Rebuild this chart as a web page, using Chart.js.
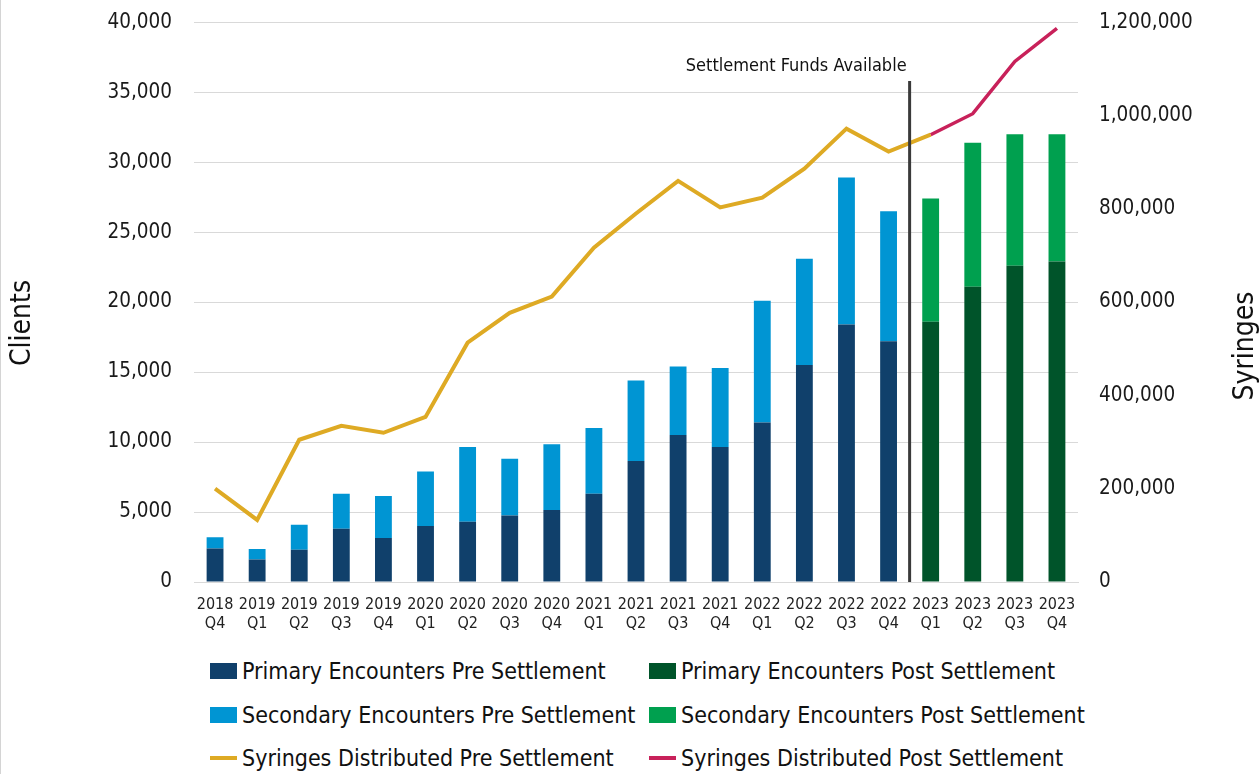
<!DOCTYPE html>
<html>
<head>
<meta charset="utf-8">
<script src="https://cdn.jsdelivr.net/npm/chart.js@4/dist/chart.umd.min.js"></script>
<style>
  html, body { margin: 0; padding: 0; background: #fff; }
  body { width: 1259px; height: 774px; position: relative; overflow: hidden; border-left: 1px solid #d4d4d4; box-sizing: border-box; }
  #chart { position: absolute; left: 0; top: -12px; }
  .legend { position: absolute; left: 0; top: 0; font-family: 'Liberation Sans Narrow', 'DejaVu Sans Condensed', sans-serif; font-size: 23px; color: #111; }
  .legend .item { position: absolute; display: flex; align-items: center; white-space: nowrap; height: 30px; }
  .legend .mark { width: 27px; margin-right: 5px; }
</style>
</head>
<body>
<canvas id="chart" width="1259" height="658"></canvas>
<div class="legend" id="legend"></div>
<script>
// Quarterly encounters (clients) and syringes distributed, before/after settlement funds
const years    = ['2018','2019','2019','2019','2019','2020','2020','2020','2020','2021','2021','2021','2021','2022','2022','2022','2022','2023','2023','2023','2023'];
const quarters = ['Q4','Q1','Q2','Q3','Q4','Q1','Q2','Q3','Q4','Q1','Q2','Q3','Q4','Q1','Q2','Q3','Q4','Q1','Q2','Q3','Q4'];

// 2018 Q4 .. 2022 Q4
const primaryPre   = [2400, 1600, 2300, 3800, 3150, 4000, 4300, 4750, 5150, 6300, 8650, 10500, 9650, 11400, 15500, 18400, 17200];
const secondaryPre = [800, 750, 1800, 2500, 3000, 3900, 5350, 4050, 4700, 4700, 5750, 4900, 5650, 8700, 7600, 10500, 9300];
// 2023 Q1 .. 2023 Q4
const primaryPost   = [18600, 21100, 22600, 22900];
const secondaryPost = [8800, 10300, 9400, 9100];

// 2018 Q4 .. 2023 Q1 (pre line runs up to the first post quarter)
const syringesPre  = [200000, 133000, 305000, 335000, 320000, 354000, 513000, 577000, 612000, 717000, 790000, 860000, 803000, 824000, 886000, 972000, 923000, 959000];
// 2023 Q1 .. 2023 Q4
const syringesPost = [959000, 1004000, 1116000, 1187000];

const clientTicks  = [0, 5000, 10000, 15000, 20000, 25000, 30000, 35000, 40000];
const syringeTicks = [0, 200000, 400000, 600000, 800000, 1000000, 1200000];

const COLORS = {
  primaryPre: '#10406B',
  secondaryPre: '#0095D3',
  primaryPost: '#00542A',
  secondaryPost: '#00A04F',
  syrPre: '#DEAA24',
  syrPost: '#C8215A',
  grid: '#D9D9D9',
  text: '#1a1a1a',
};

const FONT = "'Liberation Sans Narrow', 'DejaVu Sans Condensed', sans-serif";
const labels = years.map((y, i) => [y, quarters[i]]);
const nulls = (n) => Array(n).fill(null);
const nPre = primaryPre.length;
const SHIFT = 12; // canvas is moved up by this much

Chart.defaults.font.family = FONT;
Chart.defaults.color = COLORS.text;

// settlement marker + rotated axis titles
const extras = {
  id: 'extras',
  afterDatasetsDraw(chart) {
    const { ctx, scales } = chart;
    const x = scales.x.getPixelForValue(nPre - 0.5);
    const yTop = scales.y.getPixelForValue(35800);
    const yBot = scales.y.getPixelForValue(0);
    ctx.save();
    ctx.strokeStyle = '#3a3a3a';
    ctx.lineWidth = 3;
    ctx.beginPath();
    ctx.moveTo(x, yTop);
    ctx.lineTo(x, yBot);
    ctx.stroke();
    ctx.fillStyle = '#111';
    ctx.font = '18px ' + FONT;
    ctx.textAlign = 'right';
    ctx.textBaseline = 'middle';
    ctx.fillText('Settlement Funds Available', x - 3, 66 + SHIFT);

    ctx.font = '28px ' + FONT;
    ctx.textAlign = 'center';
    ctx.translate(22, 323 + SHIFT);
    ctx.rotate(-Math.PI / 2);
    ctx.fillText('Clients', 0, 0);
    ctx.restore();

    ctx.save();
    ctx.fillStyle = '#111';
    ctx.font = '28px ' + FONT;
    ctx.textAlign = 'center';
    ctx.textBaseline = 'middle';
    ctx.translate(1245, 346 + SHIFT);
    ctx.rotate(-Math.PI / 2);
    ctx.fillText('Syringes', 0, 0);
    ctx.restore();
  }
};

const fmt = (v) => Number(v).toLocaleString('en-US');

const chart = new Chart(document.getElementById('chart'), {
  type: 'bar',
  data: {
    labels,
    datasets: [
      { type: 'line', label: 'Syringes Distributed Pre Settlement', data: syringesPre.concat(nulls(labels.length - syringesPre.length)),
        yAxisID: 'y1', borderColor: COLORS.syrPre, backgroundColor: COLORS.syrPre, borderWidth: 4, pointRadius: 0, tension: 0, order: 0 },
      { type: 'line', label: 'Syringes Distributed Post Settlement', data: nulls(labels.length - syringesPost.length).concat(syringesPost),
        yAxisID: 'y1', borderColor: COLORS.syrPost, backgroundColor: COLORS.syrPost, borderWidth: 3.5, pointRadius: 0, tension: 0, order: 0 },
      { label: 'Primary Encounters Pre Settlement', data: primaryPre.concat(nulls(primaryPost.length)),
        backgroundColor: COLORS.primaryPre, stack: 'enc', order: 1 },
      { label: 'Secondary Encounters Pre Settlement', data: secondaryPre.concat(nulls(secondaryPost.length)),
        backgroundColor: COLORS.secondaryPre, stack: 'enc', order: 1 },
      { label: 'Primary Encounters Post Settlement', data: nulls(nPre).concat(primaryPost),
        backgroundColor: COLORS.primaryPost, stack: 'enc', order: 1 },
      { label: 'Secondary Encounters Post Settlement', data: nulls(nPre).concat(secondaryPost),
        backgroundColor: COLORS.secondaryPost, stack: 'enc', order: 1 },
    ],
  },
  options: {
    responsive: false,
    animation: false,
    layout: { padding: { top: 9, left: 0, right: 0, bottom: 0 } },
    datasets: { bar: { barPercentage: 0.4, categoryPercentage: 1 } },
    plugins: { legend: { display: false }, tooltip: { enabled: false } },
    scales: {
      x: {
        stacked: true,
        grid: { display: false, drawTicks: false },
        border: { color: COLORS.grid, width: 1 },
        ticks: { font: { size: 16 }, padding: 13, maxRotation: 0, autoSkip: false, color: '#222' },
        afterFit: (s) => { s.height = 64; },
      },
      y: {
        stacked: true,
        position: 'left',
        min: 0, max: 40000,
        afterBuildTicks: (s) => { s.ticks = clientTicks.map(v => ({ value: v })); },
        grid: { color: COLORS.grid, lineWidth: 1, drawTicks: false },
        border: { display: false },
        ticks: { font: { size: 20.5 }, padding: 22, callback: fmt },
        afterFit: (s) => { s.width = 193; },
      },
      y1: {
        position: 'right',
        min: 0, max: 1200000,
        afterBuildTicks: (s) => { s.ticks = syringeTicks.map(v => ({ value: v })); },
        grid: { display: false, drawTicks: false },
        border: { display: false },
        ticks: { font: { size: 20.5 }, padding: 21, callback: fmt },
        afterFit: (s) => { s.width = 182; },
      },
    },
  },
  plugins: [extras],
});

// two-column legend below the chart, built from the datasets
const legendOrder = [
  ['Primary Encounters Pre Settlement', 0, 0],
  ['Primary Encounters Post Settlement', 1, 0],
  ['Secondary Encounters Pre Settlement', 0, 1],
  ['Secondary Encounters Post Settlement', 1, 1],
  ['Syringes Distributed Pre Settlement', 0, 2],
  ['Syringes Distributed Post Settlement', 1, 2],
];
const colX = [209, 648];
const rowY = [671, 715, 758];
const legendEl = document.getElementById('legend');
legendOrder.forEach(([name, col, row]) => {
  const ds = chart.data.datasets.find(d => d.label === name);
  const item = document.createElement('div');
  item.className = 'item';
  item.style.left = colX[col] + 'px';
  item.style.top = (rowY[row] - 15) + 'px';
  const mark = document.createElement('span');
  mark.className = 'mark';
  const isLine = ds.type === 'line';
  mark.style.height = isLine ? '4px' : '16px';
  mark.style.background = isLine ? ds.borderColor : ds.backgroundColor;
  item.appendChild(mark);
  item.appendChild(document.createTextNode(name));
  legendEl.appendChild(item);
});
</script>
</body>
</html>
